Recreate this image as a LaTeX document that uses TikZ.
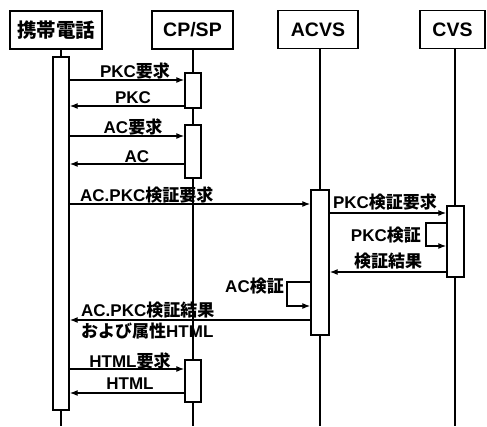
\documentclass[tikz,border=0pt]{standalone}
\usepackage{fontspec}
\setmainfont{Noto Sans CJK JP}
\newfontfamily\lat{Liberation Sans}
\usetikzlibrary{arrows.meta}
\begin{document}
\begin{tikzpicture}[x=1pt,y=-1pt,
  head/.style={draw, line width=1.7pt, minimum height=38pt, inner sep=0pt, font=\fontsize{19.5}{19.5}\selectfont\bfseries},
  act/.style={draw, fill=white, line width=1.4pt, minimum width=16pt, inner sep=0pt},
  life/.style={line width=1.4pt},
  msg/.style={line width=1.3pt, -{Latex[length=8pt,width=6pt]}},
  lbl/.style={font=\fontsize{17}{17}\selectfont\bfseries, inner sep=0pt}]
\useasboundingbox (0,0) rectangle (487,426);
% headers
\node[head, minimum width=92pt] (hp) at (56,30) {携帯電話};
\node[head, minimum width=81pt] (hc) at (192.5,30) {\lat CP/SP};
\node[head, minimum width=80pt] (ha) at (318,29.5) {\lat ACVS};
\node[head, minimum width=65pt] (hv) at (452.5,29.5) {\lat CVS};
% lifeline ends
\coordinate (pTop) at (61,49);   \coordinate (pEnd) at (61,426);
\coordinate (cTop) at (193,49);  \coordinate (cEnd) at (193,426);
\coordinate (aTop) at (320,48);  \coordinate (aEnd) at (320,426);
\coordinate (vTop) at (455,48);  \coordinate (vEnd) at (455,426);
\draw[life] (pTop) -- (pEnd);
\draw[life] (cTop) -- (cEnd);
\draw[life] (aTop) -- (aEnd);
\draw[life] (vTop) -- (vEnd);
% activations
\node[act, minimum height=353pt] (a0) at (61,233.5) {};
\node[act, minimum height=35pt] (c1) at (193,90.5) {};
\node[act, minimum height=53pt] (c2) at (193,151.5) {};
\node[act, minimum height=42pt] (c3) at (193,381) {};
\node[act, minimum width=18pt, minimum height=145pt] (v1) at (320,262.5) {};
\node[act, minimum width=17pt, minimum height=71pt] (s1) at (455.5,241.5) {};
% messages
\draw[msg] (a0.east |- 0,80) -- (c1.west |- 0,80);
\node[lbl] (l1) at (135,71) {{\lat PKC}要求};
\draw[msg] (c1.west |- 0,106) -- (a0.east |- 0,106);
\node[lbl] (l2) at (133,98) {\lat PKC};
\draw[msg] (a0.east |- 0,136) -- (c2.west |- 0,136);
\node[lbl] (l3) at (133,127) {{\lat AC}要求};
\draw[msg] (c2.west |- 0,164) -- (a0.east |- 0,164);
\node[lbl] (l4) at (137,157) {\lat AC};
\draw[msg] (a0.east |- 0,204) -- (v1.west |- 0,204);
\node[lbl, anchor=west] (l5) at (80,195) {{\lat AC.PKC}検証要求};
\draw[msg] (v1.east |- 0,213) -- (s1.west |- 0,213);
\node[lbl] (l6) at (385,202) {{\lat PKC}検証要求};
\coordinate (sl1) at (426,223); \coordinate (sl2) at (426,246);
\draw[msg] (s1.west |- sl1) -- (sl1) -- (sl2) -- (s1.west |- sl2);
\node[lbl, anchor=east] (l7) at (421,235.5) {{\lat PKC}検証};
\draw[msg] (s1.west |- 0,272) -- (v1.east |- 0,272);
\node[lbl] (l8) at (388,261) {検証結果};
\coordinate (al1) at (287,282); \coordinate (al2) at (287,306);
\draw[msg] (v1.west |- al1) -- (al1) -- (al2) -- (v1.west |- al2);
\node[lbl, anchor=east] (l9) at (284,286) {{\lat AC}検証};
\draw[msg] (v1.west |- 0,320) -- (a0.east |- 0,320);
\node[lbl, anchor=west] (l10) at (81,310) {{\lat AC.PKC}検証結果};
\node[lbl, anchor=west] (l11) at (81,331) {および属性{\lat HTML}};
\draw[msg] (a0.east |- 0,369) -- (c3.west |- 0,369);
\node[lbl] (l12) at (130,361) {{\lat HTML}要求};
\draw[msg] (c3.west |- 0,393) -- (a0.east |- 0,393);
\node[lbl] (l13) at (130,384) {\lat HTML};
\end{tikzpicture}
\end{document}
